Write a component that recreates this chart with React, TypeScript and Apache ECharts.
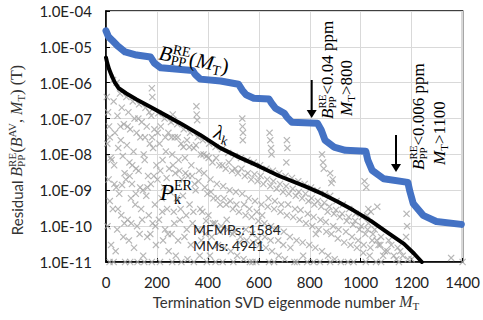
import React, { useEffect, useRef } from 'react';
import * as echarts from 'echarts';

const SANS = 'Lato, "Liberation Sans", sans-serif';
const SERIF = '"Liberation Serif", "DejaVu Serif", serif';

// Termination eigenmode number and residual B_PP^RE(M_T) (T)
const bppRE: [number, number][] = [
  [0, 2.8e-5], [10, 1.9e-5], [25, 1.5e-5], [45, 1.07e-5], [75, 7.2e-6], [120, 5.9e-6],
  [175, 5.2e-6], [190, 3.5e-6], [215, 2.6e-6], [340, 2.2e-6], [350, 1.7e-6], [370, 1.26e-6],
  [450, 1.12e-6], [520, 9.1e-7], [535, 6.2e-7], [550, 4.6e-7], [580, 3.7e-7], [640, 3.5e-7],
  [650, 2.7e-7], [665, 1.95e-7], [700, 1.4e-7], [710, 1.1e-7], [730, 7.9e-8], [830, 7.4e-8],
  [845, 4.8e-8], [860, 2.5e-8], [895, 1.6e-8], [940, 1.3e-8], [1020, 1.23e-8], [1028, 6.9e-9],
  [1045, 3.6e-9], [1090, 2.1e-9], [1185, 1.66e-9], [1193, 9.3e-10], [1206, 4.3e-10],
  [1245, 2.0e-10], [1297, 1.35e-10], [1395, 1.12e-10],
];

// singular values lambda_k
const lambdaK: [number, number][] = [
  [0, 5e-6], [5, 3.5e-6], [12, 2.4e-6], [22, 1.6e-6], [35, 1e-6], [50, 7e-7], [80, 5e-7],
  [120, 3.4e-7], [175, 2.1e-7], [240, 1.17e-7], [300, 6.8e-8], [370, 3.5e-8], [450, 1.5e-8],
  [530, 7.9e-9], [600, 4.7e-9], [680, 2.5e-9], [780, 1.3e-9], [850, 7.9e-10], [910, 4.8e-10],
  [970, 2.8e-10], [1040, 1.4e-10], [1100, 7e-11], [1170, 3.2e-11], [1210, 1.7e-11], [1240, 1e-11],
];

// P_k^ER scatter (estimated cloud)
const pkER: [number, number][] = [
  [3,4e-7],[8,1.5e-7],[12,6e-8],[5,2e-8],[18,8e-9],[10,2e-9],[15,5e-10],[6,1e-10],[20,3e-11],[14,1e-11],
  [28,1.2e-6],[42,1e-6],[30,3e-7],[45,1.2e-7],[35,4e-8],[48,1.5e-8],[32,5e-9],[40,1.2e-9],[27,3e-10],[44,8e-11],[38,2e-11],
  [55,5e-7],[62,2e-7],[70,7e-8],[58,2.5e-8],[66,9e-9],[73,3e-9],[52,8e-10],[60,2e-10],[68,5e-11],[75,1e-11],
  [80,4e-7],[88,1.5e-7],[95,5e-8],[82,1.8e-8],[92,6e-9],[78,2e-9],[98,6e-10],[85,1.5e-10],[90,4e-11],
  [105,3e-7],[112,1e-7],[120,4e-8],[108,1.2e-8],[118,4e-9],[102,1.5e-9],[115,4e-10],[122,1e-10],[110,2.5e-11],[124,1e-11],
  [130,2.5e-7],[140,8e-8],[135,3e-8],[148,1e-8],[128,3.5e-9],[145,1e-9],[138,3e-10],[132,6e-11],[146,1.5e-11],
  [155,2e-7],[170,1.5e-7],[160,6e-8],[172,2e-8],[152,7e-9],[165,2.5e-9],[158,7e-10],[168,2e-10],[162,5e-11],[150,1e-11],
  [180,7e-7],[182,4e-7],
  [178,1.2e-7],[190,5e-8],[185,1.5e-8],[198,5e-9],[176,1.5e-9],[192,4e-10],[183,1.2e-10],[196,3e-11],
  [205,1.4e-7],[215,6e-8],[210,2e-8],[222,7e-9],[202,2e-9],[218,6e-10],[208,1.5e-10],[224,4e-11],[212,1e-11],
  [230,1e-7],[245,4e-8],[235,1.2e-8],[248,4e-9],[228,1.2e-9],[240,3e-10],[232,8e-11],[246,2e-11],
  [262,1.3e-7],[265,9e-8],
  [255,8e-8],[270,3e-8],[260,1e-8],[272,3e-9],[252,9e-10],[266,2.5e-10],[258,6e-11],[274,1.5e-11],
  [280,7e-8],[295,2e-8],[285,7e-9],[298,2e-9],[278,6e-10],[290,1.5e-10],[283,4e-11],[296,1e-11],
  [305,5e-8],[318,2.5e-8],[310,8e-9],[322,2.5e-9],[302,7e-10],[315,2e-10],[308,5e-11],[320,1.2e-11],
  [330,4e-8],[345,1.5e-8],[335,5e-9],[348,1.5e-9],[328,4e-10],[340,1.2e-10],[333,3e-11],
  [355,2.2e-7],[356,1.3e-7],[358,9e-8],
  [360,3e-8],[372,1e-8],[365,3.5e-9],[352,1e-9],[370,3e-10],[362,8e-11],[368,1.5e-11],
  [380,2.5e-8],[395,9e-9],[385,3e-9],[398,8e-10],[378,2.5e-10],[390,6e-11],[396,1e-11],
  [405,2e-8],[418,6e-9],[410,2e-9],[422,6e-10],[402,2e-10],[415,5e-11],[408,1.5e-11],
  [430,1.6e-8],[445,5e-9],[435,1.5e-9],[448,4e-10],[428,1.2e-10],[440,3e-11],
  [455,1.4e-8],[470,4e-9],[460,1.3e-9],[472,4e-10],[452,1e-10],[465,2.5e-11],[458,1e-11],
  [480,1.1e-8],[495,3.5e-9],[485,1e-9],[498,3e-10],[478,8e-11],[490,2e-11],
  [505,9e-9],[518,3e-9],[510,9e-10],[522,2.5e-10],[502,7e-11],[515,1.5e-11],
  [530,8e-9],[545,2.5e-9],[535,8e-10],[548,2e-10],[528,5e-11],[540,1.2e-11],
  [535,1e-7],[536,6e-8],[538,4e-8],[537,2.5e-8],
  [555,7e-9],[570,2e-9],[560,6e-10],[572,1.8e-10],[552,4e-11],[565,1e-11],
  [580,6e-9],[595,1.8e-9],[585,5e-10],[598,1.4e-10],[578,3.5e-11],[590,1e-11],
  [605,5e-9],[618,1.5e-9],[610,4e-10],[622,1.2e-10],[602,3e-11],
  [630,4e-9],[645,1.3e-9],[635,3.5e-10],[648,1e-10],[628,2.5e-11],[640,1e-11],
  [642,4e-8],[645,2.5e-8],[648,1.5e-8],[650,1e-8],
  [655,3.5e-9],[670,1.1e-9],[660,3e-10],[672,8e-11],[652,2e-11],
  [680,3e-9],[695,9e-10],[685,2.5e-10],[698,7e-11],[678,1.5e-11],
  [705,2.5e-9],[718,8e-10],[710,2e-10],[722,5e-11],[702,1.2e-11],
  [710,2.5e-8],[712,1.5e-8],[708,6e-9],
  [730,2.2e-9],[745,7e-10],[735,1.8e-10],[748,4e-11],[740,1e-11],
  [755,1.8e-9],[770,6e-10],[760,1.5e-10],[772,3.5e-11],
  [780,1.5e-9],[795,5e-10],[785,1.2e-10],[798,3e-11],[790,1e-11],
  [805,1.2e-9],[818,4e-10],[810,1e-10],[822,2.5e-11],
  [830,1e-9],[845,3.5e-10],[835,8e-11],[848,2e-11],[840,1e-11],
  [848,1e-8],[852,6e-9],[855,4e-9],
  [860,8e-10],[870,2.5e-10],[865,7e-11],[872,1.5e-11],
  [880,3e-9],[890,2e-9],[885,1.6e-9],
  [880,7e-10],[895,2.2e-10],[885,6e-11],[898,1.2e-11],
  [905,5e-10],[918,1.8e-10],[910,4.5e-11],[922,1e-11],
  [930,4e-10],[945,1.4e-10],[935,3.5e-11],
  [955,3e-10],[970,1.1e-10],[960,3e-11],[972,1e-11],
  [980,2.2e-10],[995,8e-11],[985,2.5e-11],
  [1005,1.8e-10],[1018,6e-11],[1010,1.8e-11],
  [1015,1.8e-9],[1022,1.2e-9],[1030,3e-10],[1025,2e-10],[1040,2.5e-10],[1065,3.5e-10],
  [1030,1.2e-10],[1045,4e-11],[1035,1.5e-11],
  [1055,8e-11],[1070,3e-11],[1060,1e-11],
  [1080,5e-11],[1095,2e-11],
  [1110,4e-11],[1130,1.5e-11],[1145,2.5e-11],
  [1180,2.2e-10],[1182,1e-10],[1178,5e-11],
  [1165,1.5e-11],[1200,1.2e-11],
  [1355,1.3e-11],[1400,1e-11],
  [15,3e-8],[22,7e-9],[33,1.5e-9],[47,3e-10],[57,6e-8],[63,1.4e-9],[72,1.2e-10],[85,6e-8],[93,2.5e-9],[99,1.2e-10],
  [103,5e-9],[117,8e-10],[127,1e-7],[134,1.2e-9],[142,1.5e-10],[153,3e-8],[163,1.2e-9],[174,6e-11],[181,3e-8],[188,2.5e-9],
  [194,1e-10],[203,4e-8],[213,3.5e-9],[221,2.5e-10],[233,3e-8],[238,2.2e-9],[243,6e-11],[257,3e-8],[263,5e-9],[268,1.2e-10],
  [282,3e-8],[288,3.5e-9],[293,3e-10],[304,1.6e-8],[312,3e-9],[317,8e-11],[327,1.6e-8],[338,2.5e-9],[343,2.5e-10],[353,1.8e-8],
  [363,1.8e-9],[374,4e-11],[383,1e-8],[388,1.2e-9],[393,1.4e-10],[403,8e-9],[412,9e-10],[420,1.2e-10],[432,8e-9],[438,6e-10],
  [447,7e-11],[457,5e-9],[463,6e-10],[474,1.5e-10],[482,6e-9],[488,5e-10],[497,6e-11],[507,4e-9],[512,4e-10],[524,3.5e-11],
  [532,4e-9],[542,4e-10],[549,8e-11],[557,3e-9],[563,3e-10],[574,6e-11],[583,2.8e-9],[592,2.5e-10],[597,4.5e-11],[607,2.5e-9],
  [613,2e-10],[624,5e-11],[633,2e-9],[638,6e-10],[646,4e-11],[657,1.8e-9],[663,5e-10],[676,4e-11],[683,1.5e-9],[688,4e-10],
  [696,3e-11],[707,1.3e-9],[715,4e-10],[724,2.5e-11],[733,1.1e-9],[742,3e-10],[757,9e-10],[764,2.8e-10],[774,1.5e-11],[783,8e-10],
  [792,2.2e-10],[807,6e-10],[815,1.8e-10],[824,6e-11],[832,5e-10],[842,1.5e-10],[857,4.5e-10],[863,1.3e-10],[877,3.5e-10],[892,1e-10],
  [903,2.8e-10],[913,8e-11],[927,2.2e-10],[942,7e-11],[953,1.8e-10],[966,5e-11],[978,1.4e-10],[990,4e-11],[1002,1e-10],[1012,3e-11],
  [1027,8e-11],[1038,2.5e-11],[1048,6e-11],[1063,4e-11],[1077,3e-11],[1088,1.5e-11],[1105,2e-11],[1120,3e-11],[1140,1.2e-11],[1155,2e-11],
  [1185,1.2e-11],
  [30,1e-11],[95,1e-11],[180,1e-11],[260,1e-11],[345,1e-11],[430,1e-11],[500,1e-11],[575,1e-11],[660,1e-11],[750,1e-11],
  [815,1e-11],[880,1e-11],[950,1e-11],[1020,1e-11],[1080,1e-11],[1150,1e-11],
];

const xMin = 0;
const xMax = 1400;
const xStep = 200;
const yMin = 1e-11;
const yMax = 1e-4;

const X_SYMBOL =
  'path://M0,1.2L1.2,0L5,3.8L8.8,0L10,1.2L6.2,5L10,8.8L8.8,10L5,6.2L1.2,10L0,8.8L3.8,5Z';

type Seg = { t: string; s: number; f?: 'sans' | 'serif'; i?: boolean; dy?: number; stack?: boolean };

let measureCtx: CanvasRenderingContext2D | null = null;
function fontOf(seg: Seg) {
  return `${seg.i ? 'italic ' : ''}${seg.s}px ${seg.f === 'sans' ? SANS : SERIF}`;
}
function measure(seg: Seg) {
  if (!measureCtx) measureCtx = document.createElement('canvas').getContext('2d');
  measureCtx!.font = fontOf(seg);
  return measureCtx!.measureText(seg.t).width;
}
function lineEls(segs: Seg[], x0: number, y0: number, align: 'left' | 'center', color: string) {
  const pos: number[] = [];
  let next = 0;
  let prevStart = 0;
  segs.forEach((seg) => {
    const w = measure(seg);
    let start: number;
    if (seg.stack) {
      start = prevStart;
      next = Math.max(next, start + w);
    } else {
      start = next;
      next = start + w;
    }
    prevStart = start;
    pos.push(start);
  });
  const off = align === 'center' ? -next / 2 : 0;
  return segs.map((seg, k) => ({
    type: 'text',
    x: x0 + off + pos[k],
    y: y0 + (seg.dy || 0) - 0.32 * seg.s,
    z: 100,
    style: {
      text: seg.t,
      font: fontOf(seg),
      fontSize: seg.s,
      fontFamily: seg.f === 'sans' ? SANS : SERIF,
      fontStyle: seg.i ? 'italic' : 'normal',
      fill: color,
      textAlign: 'left',
      textVerticalAlign: 'middle',
      align: 'left',
      verticalAlign: 'middle',
    },
  }));
}

function buildGraphics() {
  const els: any[] = [];
  // Y axis title (rotated)
  els.push({
    type: 'group', x: 22, y: 150, rotation: Math.PI / 2, z: 100,
    children: lineEls([
      { t: 'Residual ', s: 15, f: 'sans' },
      { t: 'B', s: 16, i: true },
      { t: 'RE', s: 11, dy: -6 },
      { t: 'PP', s: 11, dy: 3, stack: true },
      { t: '(', s: 17 },
      { t: 'B', s: 16, i: true },
      { t: 'AV', s: 11, dy: -6 },
      { t: ', ', s: 16 },
      { t: 'M', s: 16, i: true },
      { t: 'T', s: 11, dy: 3 },
      { t: ')', s: 17 },
      { t: ' (T)', s: 16 },
    ], 0, 0, 'center', '#333'),
  });
  // X axis title
  els.push(...lineEls([
    { t: 'Termination SVD eigenmode number ', s: 15, f: 'sans' },
    { t: 'M', s: 16, i: true },
    { t: 'T', s: 11, dy: 3 },
  ], 286, 307, 'center', '#333'));
  // B_PP^RE(M_T) label
  els.push({
    type: 'group', x: 158, y: 59, rotation: -0.2, z: 100,
    children: lineEls([
      { t: 'B', s: 21, i: true },
      { t: 'RE', s: 14, dy: -8 },
      { t: 'PP', s: 14, dy: 3, stack: true },
      { t: '(', s: 21 },
      { t: 'M', s: 21, i: true },
      { t: 'T', s: 14, dy: 4 },
      { t: ')', s: 21 },
    ], 0, 0, 'left', '#000'),
  });
  // lambda_k
  els.push({
    type: 'group', x: 213, y: 137, rotation: -0.3, z: 100,
    children: lineEls([
      { t: 'λ', s: 20, i: true },
      { t: 'k', s: 13, dy: 4 },
    ], 0, 0, 'left', '#000'),
  });
  // P_k^ER
  els.push(...lineEls([
    { t: 'P', s: 23, i: true },
    { t: 'ER', s: 14, dy: -10 },
    { t: 'k', s: 14, dy: 4, stack: true },
  ], 160, 200, 'left', '#000'));
  // counts
  els.push(...lineEls([{ t: 'MFMPs: 1584', s: 14, f: 'sans' }], 193, 234, 'left', '#222'));
  els.push(...lineEls([{ t: 'MMs: 4941', s: 14, f: 'sans' }], 193, 250, 'left', '#222'));
  // arrows
  const arrow = (x: number, y1: number, y2: number) => [
    { type: 'line', z: 100, shape: { x1: x, y1, x2: x, y2: y2 - 6 }, style: { stroke: '#000', lineWidth: 2 } },
    { type: 'polygon', z: 100, shape: { points: [[x - 5, y2 - 8], [x + 5, y2 - 8], [x, y2]] }, style: { fill: '#000' } },
  ];
  els.push(...arrow(311.7, 80, 118));
  els.push(...arrow(396, 135, 172));
  // rotated annotation 1
  els.push({
    type: 'group', x: 333, y: 119, rotation: Math.PI / 2, z: 100,
    children: [
      ...lineEls([
        { t: 'B', s: 17, i: true },
        { t: 'RE', s: 11, dy: -7 },
        { t: 'PP', s: 11, dy: 3, stack: true },
        { t: '<0.04 ppm', s: 17 },
      ], 0, 0, 'left', '#000'),
      ...lineEls([
        { t: 'M', s: 17, i: true },
        { t: 'T', s: 11, dy: 3 },
        { t: '>800', s: 17 },
      ], 3, 19, 'left', '#000'),
    ],
  });
  // rotated annotation 2
  els.push({
    type: 'group', x: 424, y: 170, rotation: Math.PI / 2, z: 100,
    children: [
      ...lineEls([
        { t: 'B', s: 17, i: true },
        { t: 'RE', s: 11, dy: -7 },
        { t: 'PP', s: 11, dy: 3, stack: true },
        { t: '<0.006 ppm', s: 17 },
      ], 0, 0, 'left', '#000'),
      ...lineEls([
        { t: 'M', s: 17, i: true },
        { t: 'T', s: 11, dy: 3 },
        { t: '>1100', s: 17 },
      ], 5, 21, 'left', '#000'),
    ],
  });
  return els;
}

function expLabel(v: number) {
  const e = Math.round(Math.log10(v));
  return '1.0E' + (e < 0 ? '-' : '+') + String(Math.abs(e)).padStart(2, '0');
}

export default function App() {
  const ref = useRef<HTMLDivElement>(null);
  useEffect(() => {
    if (!ref.current) return;
    const chart = echarts.init(ref.current, undefined, { renderer: 'svg' });
    chart.setOption({
      animation: false,
      grid: { left: 106, top: 11, width: 360, height: 251, show: true, borderColor: '#000', borderWidth: 1.5, containLabel: false },
      xAxis: {
        type: 'value', min: xMin, max: xMax, interval: xStep,
        axisLine: { show: true, onZero: false, lineStyle: { color: '#000', width: 1.5 } },
        axisTick: { show: true, inside: true, length: 4, lineStyle: { color: '#000' } },
        splitLine: { show: true, lineStyle: { color: '#D9D9D9', width: 1 } },
        axisLabel: { fontFamily: SANS, fontSize: 15, color: '#222', margin: 12, formatter: (v: number) => String(v) },
      },
      yAxis: {
        type: 'log', logBase: 10, min: yMin, max: yMax,
        axisLine: { show: true, lineStyle: { color: '#000', width: 1.5 } },
        axisTick: { show: true, inside: true, length: 4, lineStyle: { color: '#000' } },
        minorTick: { show: false },
        splitLine: { show: true, lineStyle: { color: '#D9D9D9', width: 1 } },
        axisLabel: { fontFamily: SANS, fontSize: 15, color: '#222', margin: 14, formatter: expLabel },
      },
      series: [
        {
          type: 'scatter', name: 'PkER', data: pkER, symbol: X_SYMBOL, symbolSize: 7,
          itemStyle: { color: '#A5A5A5' }, z: 1, clip: false,
        },
        {
          type: 'line', name: 'lambda', data: lambdaK, showSymbol: false, symbol: 'none',
          lineStyle: { color: '#000', width: 4, cap: 'round', join: 'round' }, z: 2,
        },
        {
          type: 'line', name: 'BppRE', data: bppRE, showSymbol: false, symbol: 'none',
          lineStyle: { color: '#4472C4', width: 7, cap: 'round', join: 'round' }, z: 3,
        },
      ],
      graphic: buildGraphics(),
    });
    return () => chart.dispose();
  }, []);
  return <div ref={ref} style={{ width: 483, height: 320, position: 'absolute', left: 0, top: 0 }} />;
}
